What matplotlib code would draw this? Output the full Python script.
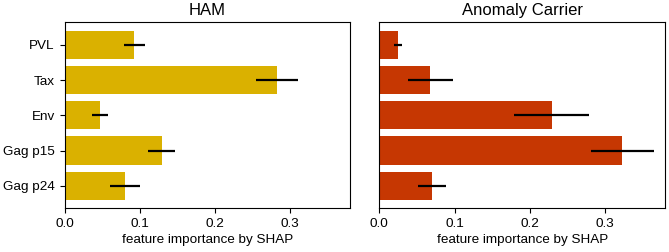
import matplotlib
matplotlib.use('Agg')
import matplotlib.pyplot as plt
import numpy as np

plt.rcParams['font.family'] = ['Liberation Sans', 'DejaVu Sans']

# Data
features = ['PVL', 'Tax', 'Env', 'Gag p15', 'Gag p24']
ham_mean = [0.093, 0.282, 0.047, 0.129, 0.080]
ham_err = [0.014, 0.028, 0.011, 0.018, 0.020]
ac_mean = [0.025, 0.068, 0.229, 0.323, 0.070]
ac_err = [0.005, 0.030, 0.050, 0.042, 0.018]
titles = ['HAM', 'Anomaly Carrier']
colors = ['#DAB100', '#C63702']

fig = plt.figure(figsize=(6.69, 2.52), dpi=100)
ax = fig.add_axes([64.5/669, 1-208.3/252, 286/669, 186/252])
ax1 = fig.add_axes([379.3/669, 1-208.3/252, 286/669, 186/252])

y = np.arange(len(features))
for a, m, e, t, c in zip([ax, ax1], [ham_mean, ac_mean], [ham_err, ac_err], titles, colors):
    a.barh(y, m, height=0.8, color=c)
    a.errorbar(m, y, xerr=e, fmt='none', ecolor='black', elinewidth=1.6, capsize=0)
    a.set_xlim(0, 0.38)
    a.set_xticks([0.0, 0.1, 0.2, 0.3])
    a.set_xticklabels(['0.0', '0.1', '0.2', '0.3'])
    a.invert_yaxis()
    a.set_title(t, fontsize=12, pad=5)
    a.set_xlabel('feature importance by SHAP', fontsize=9.7, labelpad=3)
    a.tick_params(labelsize=9.7)

ax.set_yticks(y)
ax.set_yticklabels(features)
ax1.set_yticks([])

plt.savefig('out.png', dpi=100)
